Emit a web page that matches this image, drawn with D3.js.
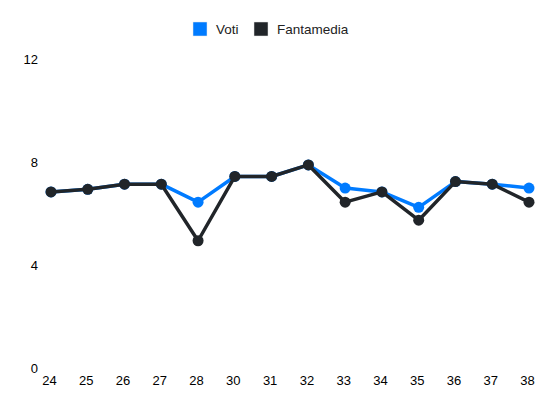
<!DOCTYPE html>
<html>
<head>
<meta charset="utf-8">
<script src="https://cdn.jsdelivr.net/npm/d3@7"></script>
<style>
  html, body { margin: 0; padding: 0; background: #fff; }
  svg { display: block; font-family: "Liberation Sans", Arial, sans-serif; }
</style>
</head>
<body>
<svg id="chart" width="550" height="412"></svg>
<script>
const categories = ["24","25","26","27","28","30","31","32","33","34","35","36","37","38"];
const voti       = [6.85, 6.95, 7.15, 7.15, 6.45, 7.45, 7.45, 7.9, 7.0, 6.85, 6.25, 7.25, 7.15, 7.0];
const fantamedia = [6.85, 6.95, 7.15, 7.15, 4.95, 7.45, 7.45, 7.9, 6.45, 6.85, 5.75, 7.25, 7.15, 6.45];
const yTicks = [0, 4, 8, 12];
const seriesNames = ["Voti", "Fantamedia"];
const seriesColors = ["#007bff", "#212529"];

const svg = d3.select("#chart");
const x = d3.scalePoint().domain(categories).range([51, 529]);
const y = d3.scaleLinear().domain([0, 12]).range([368, 59.5]);

// Y axis
const yAxis = svg.append("g")
  .attr("transform", "translate(38,0)")
  .call(d3.axisLeft(y).tickValues(yTicks).tickSize(0).tickPadding(0));
yAxis.select(".domain").remove();
yAxis.selectAll("text").attr("font-size", 13).attr("fill", "#000").attr("font-family", "Liberation Sans, Arial, sans-serif");

// X axis
const xAxis = svg.append("g")
  .attr("transform", "translate(-2,376)")
  .call(d3.axisBottom(x).tickSize(0).tickPadding(0));
xAxis.select(".domain").remove();
xAxis.selectAll("text").attr("font-size", 13).attr("fill", "#000").attr("font-family", "Liberation Sans, Arial, sans-serif");

const series = [voti, fantamedia];
const line = d3.line().x((d, i) => x(categories[i])).y(d => y(d));

series.forEach((vals, s) => {
  const g = svg.append("g");
  g.append("path")
    .datum(vals)
    .attr("d", line)
    .attr("fill", "none")
    .attr("stroke", seriesColors[s])
    .attr("stroke-width", 3.5)
    .attr("stroke-linejoin", "round");
  g.selectAll("circle")
    .data(vals)
    .enter().append("circle")
    .attr("cx", (d, i) => x(categories[i]))
    .attr("cy", d => y(d))
    .attr("r", 5.5)
    .attr("fill", seriesColors[s]);
});

// Legend
const legendItems = [{x: 193, name: seriesNames[0], color: seriesColors[0]},
                     {x: 254, name: seriesNames[1], color: seriesColors[1]}];
const lg = svg.append("g");
legendItems.forEach(it => {
  lg.append("rect").attr("x", it.x).attr("y", 22).attr("width", 14).attr("height", 14)
    .attr("fill", it.color).attr("stroke", "#e6e6e6").attr("stroke-width", 0.5);
  lg.append("text").attr("x", it.x + 23).attr("y", 29).attr("dy", "0.35em")
    .attr("font-size", 13.5).attr("fill", "#222").text(it.name);
});
</script>
</body>
</html>
